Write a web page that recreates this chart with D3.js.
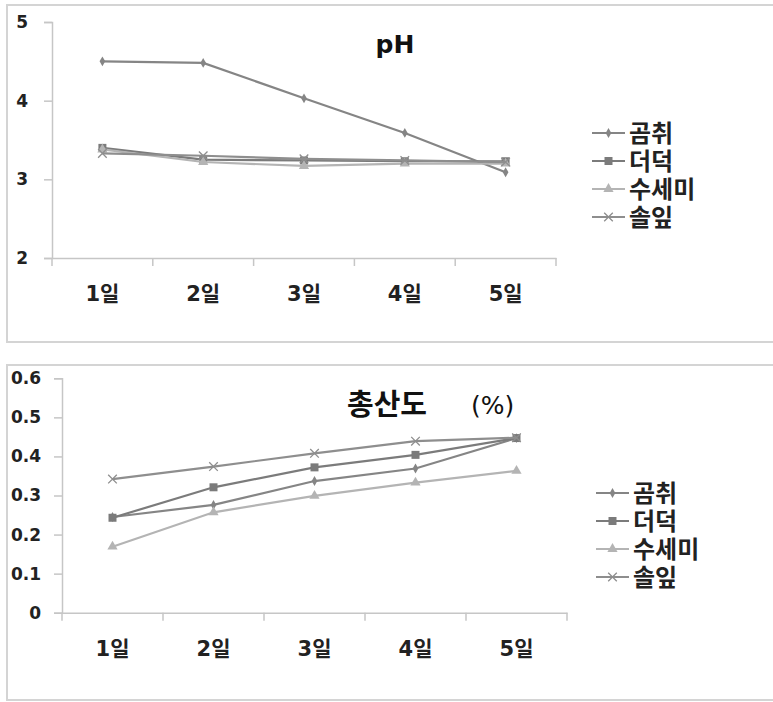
<!DOCTYPE html>
<html>
<head>
<meta charset="utf-8">
<script src="https://cdn.jsdelivr.net/npm/d3@7"></script>
<style>
  body { margin: 0; background: #fff; }
  svg { display: block; }
  text { font-family: "DejaVu Sans", "Noto Sans CJK KR", sans-serif; }
</style>
</head>
<body>
<svg id="chart"></svg>
<script>
// Categories and series
var days = ["1일", "2일", "3일", "4일", "5일"];
var seriesNames = ["곰취", "더덕", "수세미", "솔잎"];

// pH values
var phGomchwi = [4.50, 4.48, 4.03, 3.59, 3.09];
var phDeodeok = [3.40, 3.25, 3.24, 3.23, 3.23];
var phSusemi  = [3.38, 3.22, 3.17, 3.20, 3.20];
var phSolip   = [3.33, 3.30, 3.26, 3.24, 3.22];
var phTicks = [2, 3, 4, 5];

// total acidity (%)
var taGomchwi = [0.245, 0.276, 0.337, 0.369, 0.447];
var taDeodeok = [0.243, 0.321, 0.372, 0.404, 0.447];
var taSusemi  = [0.169, 0.257, 0.299, 0.333, 0.363];
var taSolip   = [0.342, 0.374, 0.408, 0.439, 0.448];
var taTicks = [0, 0.1, 0.2, 0.3, 0.4, 0.5, 0.6];

var colours = ["#858585", "#7b7b7b", "#b4b4b4", "#8e8e8e"];
var markers = ["diamond", "square", "triangle", "cross"];

var svg = d3.select("#chart").attr("width", 773).attr("height", 702);

function drawMarker(g, type, cx, cy, colour) {
    if (type === "diamond") {
        g.append("path").attr("d", d3.symbol(d3.symbolDiamond, 28)())
            .attr("transform", "translate(" + cx + "," + cy + ")").attr("fill", colour);
    } else if (type === "square") {
        g.append("path").attr("d", d3.symbol(d3.symbolSquare, 64)())
            .attr("transform", "translate(" + cx + "," + cy + ")").attr("fill", colour);
    } else if (type === "triangle") {
        g.append("path").attr("d", d3.symbol(d3.symbolTriangle, 45)())
            .attr("transform", "translate(" + cx + "," + cy + ")").attr("fill", colour);
    } else {
        g.append("path").attr("d", d3.symbol(d3.symbolX, 50)())
            .attr("transform", "translate(" + cx + "," + cy + ")")
            .attr("fill", "none").attr("stroke", colour).attr("stroke-width", 1.3);
    }
}

function drawPanel(opt) {
    // frame
    svg.append("rect")
        .attr("x", opt.frame[0]).attr("y", opt.frame[1])
        .attr("width", opt.frame[2]).attr("height", opt.frame[3])
        .attr("fill", "none").attr("stroke", "#d4d4d4").attr("stroke-width", 2);

    var x = d3.scaleBand().domain(days).range([opt.left, opt.right]);
    var y = d3.scaleLinear().domain(opt.domain).range([opt.bottom, opt.top]);

    var g = svg.append("g");

    // y axis
    var yAxis = g.append("g")
        .attr("transform", "translate(" + opt.left + ",0)")
        .call(d3.axisLeft(y).tickValues(opt.ticks).tickSize(8).tickFormat(opt.fmt));
    yAxis.select(".domain").attr("stroke", "#c6c6c6").attr("stroke-width", 1.5);
    yAxis.selectAll(".tick line").attr("stroke", "#c6c6c6").attr("stroke-width", 1.5);
    yAxis.selectAll(".tick text")
        .attr("x", opt.ylabX - opt.left).attr("text-anchor", "end")
        .attr("font-family", "DejaVu Sans").attr("font-size", "17px")
        .attr("font-weight", "bold").attr("fill", "#222");

    // x axis
    var xAxis = g.append("g")
        .attr("transform", "translate(0," + opt.bottom + ")")
        .call(d3.axisBottom(x).tickSize(0));
    xAxis.select(".domain").attr("stroke", "#c6c6c6").attr("stroke-width", 1.5);
    xAxis.selectAll(".tick text")
        .attr("y", opt.xlabY).attr("dy", 0)
        .attr("font-family", "DejaVu Sans, Noto Sans CJK KR")
        .attr("font-size", "21px").attr("font-weight", "bold").attr("fill", "#222");
    // category boundary ticks
    var bounds = days.map(function (d) { return x(d); }).concat([opt.right]);
    g.selectAll(".btick").data(bounds).enter().append("line")
        .attr("x1", function (d) { return d; }).attr("x2", function (d) { return d; })
        .attr("y1", opt.bottom).attr("y2", opt.bottom + 8)
        .attr("stroke", "#c6c6c6").attr("stroke-width", 1.5);

    // series
    var line = d3.line()
        .x(function (d, i) { return x(days[i]) + x.bandwidth() / 2; })
        .y(function (d) { return y(d); });

    opt.series.forEach(function (vals, s) {
        g.append("path").datum(vals)
            .attr("d", line).attr("fill", "none")
            .attr("stroke", colours[s]).attr("stroke-width", 2.2);
        vals.forEach(function (v, i) {
            drawMarker(g, markers[s], x(days[i]) + x.bandwidth() / 2, y(v), colours[s]);
        });
    });

    // title
    opt.title(g);

    // legend
    var legend = g.append("g").attr("transform", "translate(" + opt.legend[0] + "," + opt.legend[1] + ")");
    seriesNames.forEach(function (name, s) {
        var row = legend.append("g").attr("transform", "translate(0," + (s * 28) + ")");
        row.append("line").attr("x1", 0).attr("x2", 33).attr("y1", 0).attr("y2", 0)
            .attr("stroke", colours[s]).attr("stroke-width", 2.2);
        drawMarker(row, markers[s], 16.5, 0, colours[s]);
        row.append("text").attr("x", 37).attr("y", 9)
            .attr("font-family", "Noto Sans CJK KR")
            .attr("font-size", "24px").attr("font-weight", "bold").attr("fill", "#222")
            .text(name);
    });
}

drawPanel({
    frame: [7, 5, 770, 337],
    left: 52, right: 556, top: 22, bottom: 258,
    domain: [2, 5], ticks: phTicks, fmt: d3.format("d"), ylabX: 28, xlabY: 43,
    series: [phGomchwi, phDeodeok, phSusemi, phSolip],
    legend: [592, 133],
    title: function (g) {
        g.append("text").attr("x", 395).attr("y", 53).attr("text-anchor", "middle")
            .attr("font-size", "25px").attr("font-weight", "bold").attr("fill", "#111")
            .text("pH");
    }
});

drawPanel({
    frame: [7, 365, 770, 335],
    left: 62, right: 567, top: 378.3, bottom: 612.7,
    domain: [0, 0.6], ticks: taTicks, fmt: function (d) { return d === 0 ? "0" : d3.format(".1f")(d); }, ylabX: 41, xlabY: 43,
    series: [taGomchwi, taDeodeok, taSusemi, taSolip],
    legend: [596, 493],
    title: function (g) {
        g.append("text").attr("x", 347).attr("y", 415)
            .attr("font-family", "Noto Sans CJK KR")
            .attr("font-size", "29px").attr("font-weight", "bold").attr("fill", "#111")
            .text("총산도");
        g.append("text").attr("x", 471).attr("y", 414)
            .attr("font-family", "Noto Sans CJK KR")
            .attr("font-size", "25px").attr("fill", "#111")
            .text("(%)");
    }
});
</script>
</body>
</html>
